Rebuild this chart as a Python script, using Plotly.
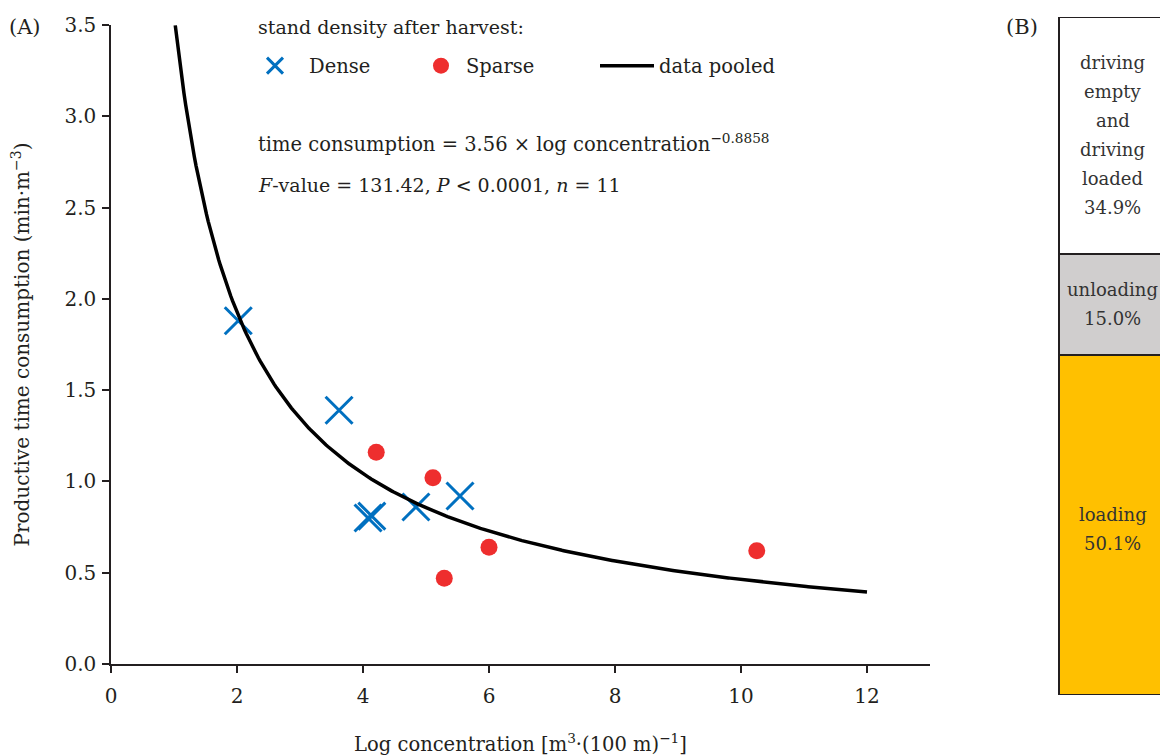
import numpy as np
import plotly.graph_objects as go

# ---- data ----
dense_x = [2.02, 3.62, 4.08, 4.14, 4.84, 5.54]
dense_y = [1.88, 1.39, 0.80, 0.81, 0.86, 0.92]
sparse_x = [4.21, 5.11, 5.29, 6.00, 10.25]
sparse_y = [1.16, 1.02, 0.47, 0.64, 0.62]
fit_a = 3.56
fit_b = -0.8858
fit_xmin = 1.02
fit_xmax = 12.0
x_ticks = [0, 2, 4, 6, 8, 10, 12]
y_ticks = [0.0, 0.5, 1.0, 1.5, 2.0, 2.5, 3.0, 3.5]
y_tick_labels = ["0.0", "0.5", "1.0", "1.5", "2.0", "2.5", "3.0", "3.5"]

share_names = ["loading", "unloading", "driving empty and driving loaded"]
share_values = [50.1, 15.0, 34.9]
share_lines = [["loading", "50.1%"], ["unloading", "15.0%"],
               ["driving", "empty", "and", "driving", "loaded", "34.9%"]]
share_colors = ["#FFC000", "#D0CECE", "#FFFFFF"]

FONT = "DejaVu Serif"
TXT = "#231F20"
OFF = 8                      # page body margin
W, H = 1168 - OFF, 756 - OFF


def px(xp):
    return (xp - OFF) / W


def py(yp):
    return 1 - (yp - OFF) / H


fit_x = np.linspace(fit_xmin, fit_xmax, 400)
fit_y = fit_a * fit_x ** fit_b

fig = go.Figure()
fig.add_trace(go.Scatter(x=dense_x, y=dense_y, mode="markers", name="Dense",
                         marker=dict(symbol="x-thin-open", size=27, color="#0070C0",
                                     line=dict(width=3, color="#0070C0")),
                         xaxis="x", yaxis="y", legend="legend"))
fig.add_trace(go.Scatter(x=sparse_x, y=sparse_y, mode="markers", name="Sparse",
                         marker=dict(symbol="circle", size=17, color="#EE2E2E"),
                         xaxis="x", yaxis="y", legend="legend2"))
fig.add_trace(go.Scatter(x=fit_x, y=fit_y, mode="lines", name="data pooled",
                         line=dict(color="black", width=3.5),
                         xaxis="x", yaxis="y", legend="legend3"))

base = 0.0
for name, val, col in zip(share_names, share_values, share_colors):
    fig.add_trace(go.Bar(x=[0.5], y=[val], base=[base], width=[1.0], name=name,
                         marker=dict(color=col, line=dict(color=TXT, width=2)),
                         showlegend=False, xaxis="x2", yaxis="y2", hoverinfo="skip"))
    base += val

annotations = []
base = 0.0
LINE_STEP = 29
label_nudge = [-4, 0, 0]
for lines, val, nudge in zip(share_lines, share_values, label_nudge):
    n = len(lines)
    for k, line in enumerate(lines):
        annotations.append(dict(x=0.44, y=base + val / 2, xref="x2", yref="y2",
                                text=line, showarrow=False,
                                yshift=-(k - (n - 1) / 2) * LINE_STEP + nudge,
                                font=dict(family=FONT, size=18, color="#333333")))
    base += val

annotations += [
    dict(x=px(7), y=py(27), xref="paper", yref="paper", text="(A)", showarrow=False,
         xanchor="left", yanchor="middle", font=dict(family=FONT, size=21, color=TXT)),
    dict(x=px(1004), y=py(27), xref="paper", yref="paper", text="(B)", showarrow=False,
         xanchor="left", yanchor="middle", font=dict(family=FONT, size=21, color=TXT)),
    dict(x=px(256), y=py(27), xref="paper", yref="paper", text="stand density after harvest:",
         showarrow=False, xanchor="left", yanchor="middle",
         font=dict(family=FONT, size=19, color=TXT)),
    dict(x=px(256), y=py(143), xref="paper", yref="paper",
         text="time consumption = 3.56 × log concentration<sup>−0.8858</sup>",
         showarrow=False, xanchor="left", yanchor="middle",
         font=dict(family=FONT, size=19.5, color=TXT)),
    dict(x=px(256), y=py(185), xref="paper", yref="paper",
         text="<i>F</i>-value = 131.42, <i>P</i> &lt; 0.0001, <i>n</i> = 11",
         showarrow=False, xanchor="left", yanchor="middle",
         font=dict(family=FONT, size=19, color=TXT)),
]

legend_common = dict(orientation="h", yanchor="middle", xanchor="left",
                     font=dict(family=FONT, size=19.5, color=TXT),
                     bgcolor="rgba(0,0,0,0)", borderwidth=0)

axis_common = dict(showgrid=False, zeroline=False, showline=True, linecolor=TXT,
                   linewidth=1.5, ticks="outside", ticklen=7, tickwidth=1.5,
                   tickcolor=TXT, tickfont=dict(family=FONT, size=20, color=TXT),
                   automargin=False)

fig.update_layout(
    template="none",
    width=W, height=H,
    margin=dict(l=0, r=0, t=0, b=0, pad=0, autoexpand=False),
    paper_bgcolor="white", plot_bgcolor="white",
    font=dict(family=FONT, size=19, color=TXT),
    showlegend=True,
    legend=dict(legend_common, x=px(241), y=py(66), itemwidth=58),
    legend2=dict(legend_common, x=px(416), y=py(66), itemwidth=40),
    legend3=dict(legend_common, x=px(595), y=py(66), itemwidth=54),
    xaxis=dict(axis_common, domain=[px(111), px(930)], range=[0, 13], tickvals=x_ticks,
               ticklabelstandoff=6,
               title=dict(text="Log concentration [m<sup>3</sup>·(100 m)<sup>−1</sup>]",
                          font=dict(family=FONT, size=19.5, color=TXT), standoff=36),
               anchor="y"),
    yaxis=dict(axis_common, domain=[py(664), py(25)], range=[0, 3.5], tickvals=y_ticks,
               ticktext=y_tick_labels, ticklabelstandoff=2,
               title=dict(text="Productive time consumption (min·m<sup>−3</sup>)",
                          font=dict(family=FONT, size=20, color=TXT), standoff=34),
               anchor="x"),
    xaxis2=dict(domain=[px(1057), 1.0], range=[-0.02, 0.9], visible=False,
                showgrid=False, zeroline=False, anchor="y2", automargin=False),
    yaxis2=dict(domain=[py(695), py(17)], range=[0, 100], visible=False,
                showgrid=False, zeroline=False, anchor="x2", automargin=False),
    annotations=annotations,
    barmode="overlay",
    bargap=0,
)

fig.write_html("out.html")
